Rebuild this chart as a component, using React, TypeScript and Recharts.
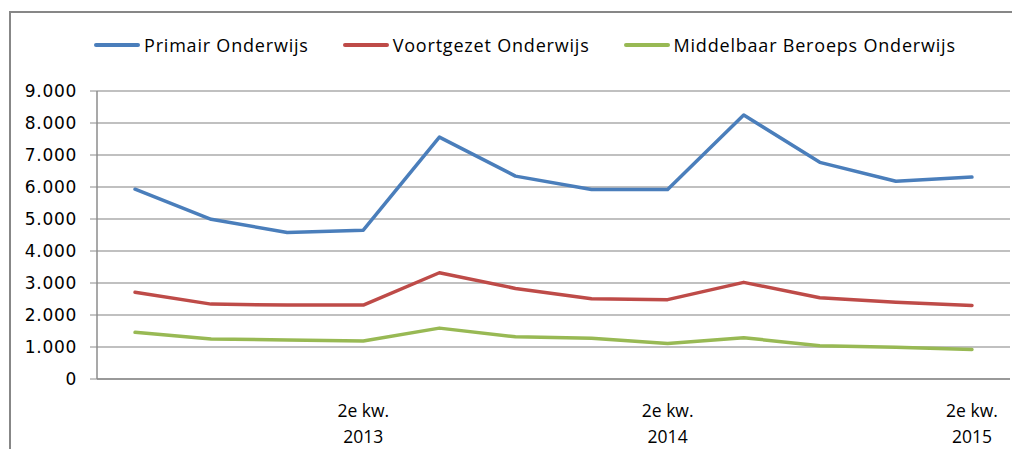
import React from "react";
import { LineChart, Line, XAxis, YAxis, CartesianGrid } from "recharts";

const quarters = [
  "3e kw. 2012", "4e kw. 2012", "1e kw. 2013", "2e kw. 2013",
  "3e kw. 2013", "4e kw. 2013", "1e kw. 2014", "2e kw. 2014",
  "3e kw. 2014", "4e kw. 2014", "1e kw. 2015", "2e kw. 2015",
];
const primair = [5930, 4990, 4580, 4650, 7560, 6340, 5920, 5920, 8250, 6770, 6180, 6310];
const voortgezet = [2710, 2340, 2310, 2310, 3320, 2830, 2510, 2480, 3020, 2540, 2400, 2300];
const mbo = [1460, 1250, 1220, 1190, 1590, 1320, 1270, 1110, 1290, 1040, 990, 920];
const yTicks = [0, 1000, 2000, 3000, 4000, 5000, 6000, 7000, 8000, 9000];
const labelledQuarters = [3, 7, 11];

const series = [
  { key: "primair", name: "Primair Onderwijs", color: "#4A7EBB", values: primair },
  { key: "voortgezet", name: "Voortgezet Onderwijs", color: "#BE4B48", values: voortgezet },
  { key: "mbo", name: "Middelbaar Beroeps Onderwijs", color: "#98B954", values: mbo },
];

const data = quarters.map((q, i) => {
  const row: Record<string, number | string> = { q, i };
  series.forEach((s) => (row[s.key] = s.values[i]));
  return row;
});

const edgeTicks = quarters.map((_, i) => i - 0.5).concat([quarters.length - 0.5]);
const fmt = (v: number) => v.toLocaleString("de-DE");
const labelFont = "'Open Sans', sans-serif";

const QuarterTick = (props: any) => {
  const { x, y, payload } = props;
  const text: string = quarters[payload.value] || "";
  const parts = text.split(" ");
  const first = parts.slice(0, 2).join(" ");
  const second = parts.slice(2).join(" ");
  return (
    <text x={x} y={y} textAnchor="middle" fill="#000" fontFamily={labelFont} fontSize={17.5}>
      <tspan x={x} dy={30}>{first}</tspan>
      <tspan x={x} dy={26}>{second}</tspan>
    </text>
  );
};

export default function App() {
  return (
    <div style={{ position: "relative", width: 1004, height: 441, overflow: "hidden", background: "#fff" }}>
      <div
        style={{
          position: "absolute",
          left: 1,
          top: 3,
          right: -20,
          bottom: -20,
          border: "2px solid #878787",
        }}
      />
      <div
        style={{
          position: "absolute",
          left: 86,
          top: 25,
          display: "flex",
          alignItems: "center",
          fontFamily: labelFont,
          fontSize: 18,
          letterSpacing: 0.8,
          color: "#000",
          whiteSpace: "nowrap",
        }}
      >
        {series.map((s, idx) => (
          <div key={s.key} style={{ display: "flex", alignItems: "center", marginLeft: idx === 0 ? 0 : 34 }}>
            <div style={{ width: 46, height: 4, background: s.color, borderRadius: 2, marginRight: 4 }} />
            <span>{s.name}</span>
          </div>
        ))}
      </div>
      <LineChart
        width={1004}
        height={441}
        data={data}
        margin={{ top: 83, right: 2, bottom: 0, left: 0 }}
        style={{ position: "absolute", left: 0, top: 0 }}
      >
        <CartesianGrid vertical={false} stroke="#ababab" strokeWidth={1.5} />
        <XAxis
          xAxisId="edges"
          type="number"
          dataKey="i"
          domain={[-0.5, quarters.length - 0.5]}
          ticks={edgeTicks}
          tick={false}
          tickSize={6}
          height={8}
          stroke="#8c8c8c"
          axisLine={{ stroke: "#8c8c8c", strokeWidth: 1.5 }}
          tickLine={{ stroke: "#8c8c8c", strokeWidth: 1 }}
        />
        <XAxis
          xAxisId="labels"
          type="number"
          dataKey="i"
          domain={[-0.5, quarters.length - 0.5]}
          ticks={labelledQuarters}
          axisLine={false}
          tickLine={false}
          tickSize={0}
          tickMargin={0}
          height={62}
          interval={0}
          tick={<QuarterTick />}
        />
        <YAxis
          width={89}
          domain={[0, 9000]}
          ticks={yTicks}
          tickFormatter={fmt}
          tickSize={7}
          tickMargin={13}
          interval={0}
          axisLine={{ stroke: "#8c8c8c", strokeWidth: 1.5 }}
          tickLine={{ stroke: "#8c8c8c", strokeWidth: 1 }}
          tick={{ fill: "#000", fontFamily: "'DejaVu Sans', sans-serif", fontSize: 17, letterSpacing: 0.7 }}
        />
        {series.map((s) => (
          <Line
            key={s.key}
            xAxisId="edges"
            type="linear"
            dataKey={s.key}
            name={s.name}
            stroke={s.color}
            strokeWidth={3.5}
            strokeLinejoin="round"
            strokeLinecap="round"
            dot={false}
            activeDot={false}
            isAnimationActive={false}
          />
        ))}
      </LineChart>
    </div>
  );
}
